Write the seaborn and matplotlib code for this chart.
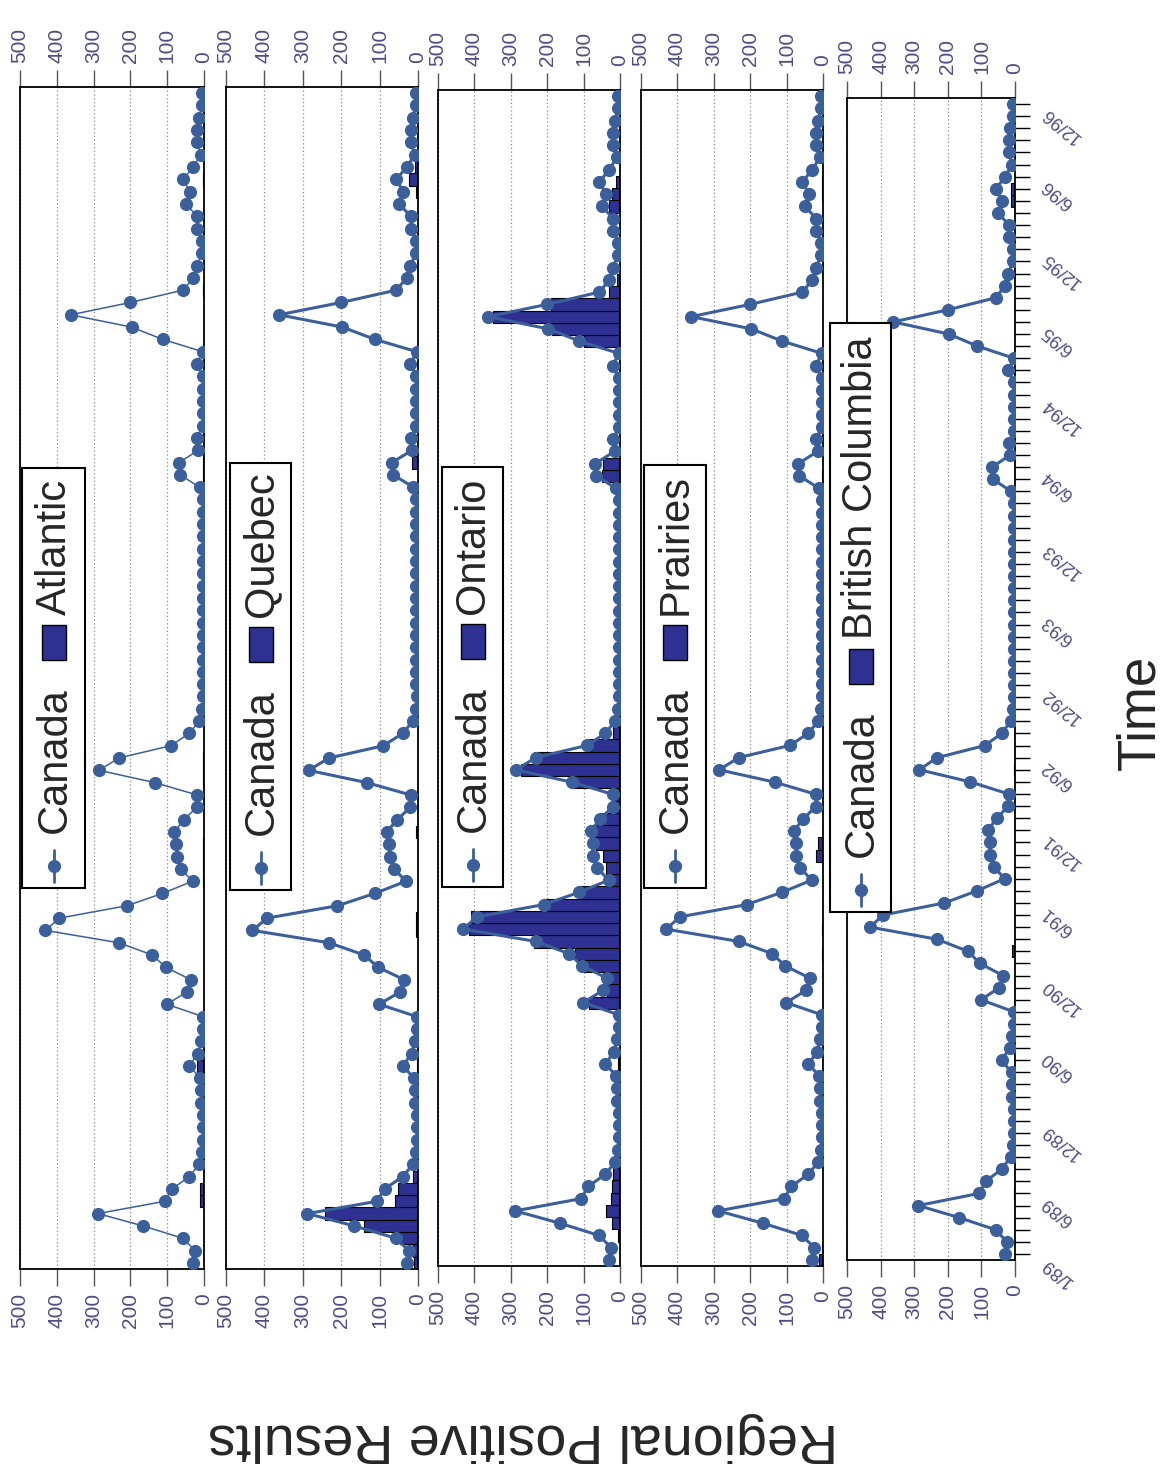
import matplotlib
matplotlib.use("Agg")
import matplotlib.pyplot as plt
import seaborn as sns
from matplotlib.lines import Line2D
from matplotlib.patches import Rectangle

# monthly positive results, 1/89 .. 12/96
canada = [29, 24, 58, 166, 288, 107, 87, 40, 13, 6,
          3, 2, 2, 8, 8, 10, 40, 16, 9, 3,
          3, 101, 47, 36, 104, 140, 232, 431, 393, 210,
          113, 31, 63, 74, 75, 81, 54, 20, 19, 133,
          285, 232, 90, 40, 13, 5, 2, 4, 4, 4,
          4, 4, 4, 4, 4, 4, 4, 4, 4, 4,
          4, 4, 4, 12, 65, 68, 15, 18, 4, 4,
          4, 4, 4, 20, 3, 112, 197, 362, 200, 57,
          29, 20, 5, 5, 18, 18, 50, 38, 57, 29,
          9, 18, 18, 14, 5, 5]

atlantic = [0, 0, 0, 0, 0, 12, 12, 0, 0, 0,
            0, 0, 0, 0, 0, 0, 20, 0, 0, 0,
            0, 0, 0, 0, 0, 0, 0, 0, 0, 0,
            0, 2, 2, 2, 2, 0, 0, 0, 0, 2,
            2, 2, 0, 0, 0, 0, 0, 0, 0, 0,
            0, 0, 0, 0, 0, 0, 0, 0, 0, 0,
            0, 0, 0, 0, 3, 3, 0, 0, 0, 0,
            0, 0, 0, 0, 4, 0, 0, 0, 0, 3,
            0, 0, 0, 0, 0, 0, 0, 0, 2, 0,
            0, 0, 0, 0, 0, 0]

quebec = [10, 13, 46, 140, 243, 61, 52, 13, 0, 0,
          0, 0, 0, 0, 0, 0, 2, 0, 0, 0,
          0, 0, 0, 0, 0, 0, 0, 4, 4, 0,
          0, 0, 0, 0, 0, 6, 0, 0, 0, 0,
          0, 0, 0, 0, 0, 0, 0, 0, 0, 0,
          0, 0, 0, 0, 0, 0, 0, 0, 0, 0,
          0, 0, 0, 0, 0, 16, 0, 0, 0, 0,
          0, 0, 0, 0, 0, 0, 0, 0, 0, 0,
          0, 0, 0, 0, 0, 0, 0, 6, 23, 7,
          0, 0, 0, 0, 0, 0]

ontario = [0, 0, 5, 21, 38, 25, 21, 18, 0, 0,
           0, 0, 0, 0, 0, 0, 6, 0, 0, 0,
           0, 84, 37, 46, 100, 123, 235, 416, 408, 212,
           112, 27, 38, 48, 66, 80, 55, 22, 17, 130,
           272, 236, 93, 20, 6, 0, 0, 0, 0, 0,
           0, 0, 0, 0, 0, 0, 0, 0, 0, 0,
           0, 0, 0, 0, 50, 48, 0, 0, 0, 0,
           0, 0, 0, 0, 2, 100, 187, 350, 190, 30,
           8, 0, 0, 0, 0, 0, 30, 22, 12, 0,
           0, 0, 0, 0, 0, 0]

prairies = [12, 3, 0, 0, 0, 0, 0, 0, 0, 0,
            0, 0, 0, 0, 0, 0, 0, 0, 0, 0,
            0, 0, 0, 0, 0, 3, 0, 3, 0, 0,
            0, 0, 0, 18, 14, 0, 0, 0, 0, 0,
            0, 0, 0, 0, 0, 0, 0, 0, 0, 0,
            0, 0, 0, 0, 0, 0, 0, 0, 0, 0,
            0, 0, 0, 0, 3, 0, 0, 0, 0, 0,
            0, 0, 0, 0, 0, 0, 0, 0, 0, 0,
            0, 0, 0, 0, 0, 0, 0, 4, 4, 0,
            0, 0, 0, 0, 0, 0]

british_columbia = [0, 0, 0, 0, 0, 4, 0, 0, 0, 0,
                    0, 0, 0, 0, 0, 0, 0, 0, 0, 0,
                    0, 0, 0, 0, 0, 8, 0, 0, 0, 0,
                    0, 0, 0, 0, 0, 0, 0, 0, 0, 0,
                    3, 0, 0, 0, 0, 0, 0, 0, 0, 0,
                    0, 0, 0, 0, 0, 0, 0, 0, 0, 0,
                    0, 0, 0, 0, 0, 0, 0, 0, 0, 0,
                    0, 0, 0, 0, 0, 0, 0, 0, 0, 0,
                    0, 0, 0, 0, 0, 0, 0, 12, 12, 0,
                    0, 0, 0, 0, 0, 0]

region_names = ["Atlantic", "Quebec", "Ontario", "Prairies", "British Columbia"]
region_values = [atlantic, quebec, ontario, prairies, british_columbia]

month_labels = ["1/89", "6/89", "12/89", "6/90", "12/90", "6/91", "12/91", "6/92",
                "12/92", "6/93", "12/93", "6/94", "12/94", "6/95", "12/95", "6/96",
                "12/96"]
label_months = [0, 5, 11, 17, 23, 29, 35, 41, 47, 53, 59, 65, 71, 77, 83, 89, 95]
value_ticks = [0, 100, 200, 300, 400, 500]

months = list(range(len(canada)))

LINE_COLOR = "#3b5f9b"
BAR_COLOR = "#2e3192"
TICK_COLOR = "#4d4d85"

sns.set_style("ticks")
plt.rcParams["font.family"] = ["Liberation Sans", "DejaVu Sans"]

W, H = 1165, 1464
fig = plt.figure(figsize=(W / 100, H / 100), dpi=100)


def fx(x):
    return x / W


def fy(y):
    return 1 - y / H


# panel frames in pixels: left, top, right, bottom
panel_px = [(20, 87, 204, 1269), (226, 87, 418, 1269), (438, 90, 620, 1266),
            (641, 90, 823, 1266), (847, 98, 1015, 1260)]
# legend boxes in pixels: left, top, right, bottom
legend_px = [(22, 468, 85, 888), (230, 463, 291, 890), (442, 467, 503, 887),
             (644, 465, 706, 888), (830, 323, 891, 912)]
line_widths = [1.1, 2.2, 2.2, 2.2, 2.2]

for i, (name, vals) in enumerate(zip(region_names, region_values)):
    l, t, r, b = panel_px[i]
    ax = fig.add_axes([fx(l), fy(b), fx(r) - fx(l), fy(t) - fy(b)])
    sns.barplot(x=vals, y=months, orient="h", native_scale=True, width=1,
                color=BAR_COLOR, saturation=1, edgecolor="black",
                linewidth=0.8, errorbar=None, ax=ax, zorder=2)
    sns.lineplot(x=canada, y=months, orient="y", color=LINE_COLOR,
                 linewidth=line_widths[i], marker="o", markersize=9.5,
                 markeredgewidth=0, ax=ax, zorder=3)
    ax.set_xlim(500, 0)
    ax.set_ylim(-0.5, 95.5)
    ax.set_xticks(value_ticks)
    ax.set_xticklabels([str(v) for v in value_ticks])
    ax.xaxis.grid(True, linestyle=(0, (1, 2)), color="#8a8a8a", linewidth=0.9)
    ax.set_axisbelow(True)
    ax.tick_params(axis="x", which="both", top=True, bottom=True,
                   labeltop=True, labelbottom=True, direction="out",
                   length=12.5, width=1, color="#555555", labelrotation=90,
                   labelsize=15, labelcolor=TICK_COLOR, pad=5)
    for sp in ax.spines.values():
        sp.set_linewidth(1.3)
        sp.set_color("black")
    ax.set_xlabel("")
    ax.set_ylabel("")
    if i == len(region_names) - 1:
        ax.set_yticks(label_months)
        ax.set_yticklabels(month_labels)
        ax.set_yticks(months, minor=True)
        ax.yaxis.tick_right()
        ax.tick_params(axis="y", which="both", left=False, right=True,
                       labelleft=False, labelright=True, direction="out",
                       length=11, width=1, color="black", labelsize=13,
                       labelcolor=TICK_COLOR, labelrotation=140, pad=6)
        for lab in ax.get_yticklabels():
            lab.set_va("top")
            lab.set_ha("left")
    else:
        ax.set_yticks([])
        ax.tick_params(axis="y", left=False, right=False, labelleft=False)

    # legend drawn rotated, like the rest of the figure
    ll, lt, lr, lb = legend_px[i]
    cx = (ll + lr) / 2
    fig.add_artist(Rectangle((fx(ll), fy(lb)), fx(lr) - fx(ll), fy(lt) - fy(lb),
                             transform=fig.transFigure, facecolor="white",
                             edgecolor="black", linewidth=1.5, zorder=10))
    fig.add_artist(Line2D([fx(cx), fx(cx)], [fy(lb - 6), fy(lb - 38)],
                          transform=fig.transFigure, color=LINE_COLOR,
                          linewidth=2, zorder=11))
    fig.add_artist(Line2D([fx(cx)], [fy(lb - 22)], transform=fig.transFigure,
                          color=LINE_COLOR, marker="o", markersize=9.5,
                          markeredgewidth=0, zorder=12))
    fig.text(fx(cx + 1), fy(lb - 55), "Canada", rotation=90, ha="center",
             va="bottom", fontsize=30, zorder=12)
    fig.add_artist(Rectangle((fx(cx - 12), fy(lb - 228)), fx(24), fy(0) - fy(35),
                             transform=fig.transFigure, facecolor=BAR_COLOR,
                             edgecolor="black", linewidth=1, zorder=11))
    fig.text(fx(cx + 1), fy(lb - 273), name, rotation=90, ha="center",
             va="bottom", fontsize=30, zorder=12)

fig.text(fx(1140), fy(712), "Time", rotation=90, ha="center", va="center",
         fontsize=38)
fig.text(fx(523), fy(1438), "Regional Positive Results", rotation=180,
         ha="center", va="center", fontsize=40)

fig.savefig("out.png", dpi=100)
